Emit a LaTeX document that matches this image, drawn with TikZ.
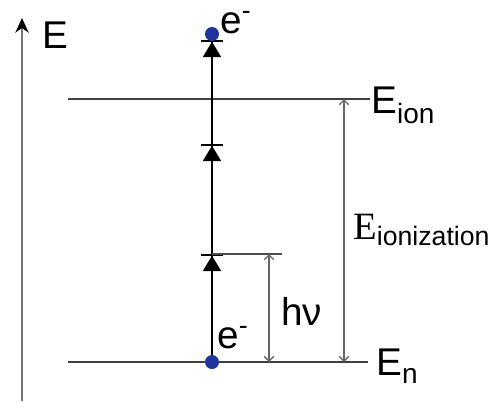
\documentclass[tikz,border=0pt]{standalone}
\usepackage{fontspec}
\setmainfont{Liberation Sans}
\newfontfamily\serifE{Liberation Serif}
\usetikzlibrary{arrows.meta}
\definecolor{dotblue}{RGB}{32,52,158}
\newcommand{\bigtxt}{\fontsize{29}{34}\selectfont}
\newcommand{\subtxt}[2]{\raisebox{-#1}{\fontsize{21}{24}\selectfont #2}}
\newcommand{\eminus}{e\raisebox{10pt}{\fontsize{20}{22}\selectfont -}}

\begin{document}
\begin{tikzpicture}[x=0.75pt,y=-0.75pt,
		level/.style={line width=1.8pt,draw=black!75},
		photon/.style={line width=1.6pt,-{Triangle[width=13.5pt,length=11.5pt,sep=0pt]Bar[width=16pt,line width=1.3pt]}},
		dimline/.style={line width=1pt,draw=black!60,{Straight Barb[length=3.5pt,width=7pt]}-{Straight Barb[length=3.5pt,width=7pt]}},
		electron/.style={circle,fill=dotblue,inner sep=0pt,minimum size=10.5pt},
		lbl/.style={inner sep=0pt,anchor=base west,font=\bigtxt}]
	\useasboundingbox (0,0) rectangle (493,401);
	
	% energy axis
	\coordinate (axB) at (22,401);
	\coordinate (axT) at (22,18);
	\draw[line width=1.2pt,draw=black!55,-{Stealth[width=10pt,length=11pt,inset=3.5pt,color=black]}] (axB) -- (axT);
	\node[lbl] (axlbl) at (42,48) {E};
	
	% levels
	\coordinate (ionL) at (68,99);
	\coordinate (ionR) at (370,99);
	\coordinate (nL) at (68,362);
	\coordinate (nR) at (368,362);
	\draw[level] (ionL) -- (ionR);
	\draw[level] (nL) -- (nR);
	\node[lbl] (ionlbl) at (371,113) {E\subtxt{7.5pt}{ion}};
	\node[lbl] (nlbl) at (376,375) {E\subtxt{6pt}{n}};
	
	% photon steps
	\coordinate (s0) at (212,362);
	\coordinate (s1) at (212,254);
	\coordinate (s2) at (212,144);
	\coordinate (s3) at (212,40);
	\foreach \a/\b in {s0/s1,s1/s2,s2/s3}
		\draw[photon] (\a) -- (\b);
	\node[electron] (ebot) at (s0) {};
	\node[electron] (etop) at (212,34) {};
	\node[lbl] (etoplbl) at (220,33) {\eminus};
	\node[lbl] (ebotlbl) at (217,348) {\eminus};
	
	% h nu and ionization energy
	\coordinate (hvR) at (282,254);
	\draw[line width=1pt,draw=black!70] (s1) -- (hvR);
	\coordinate (hvT) at (269,254);
	\coordinate (hvB) at (269,362);
	\draw[dimline] (hvT) -- (hvB);
	\node[lbl] (hvlbl) at (281,325) {hν};
	\coordinate (izT) at (344,99);
	\coordinate (izB) at (344,362);
	\draw[dimline] (izT) -- (izB);
	\node[lbl] (izlbl) at (353,239) {{\serifE E}\subtxt{4.5pt}{\fontsize{20}{24}\selectfont ionization}};
\end{tikzpicture}
\end{document}
